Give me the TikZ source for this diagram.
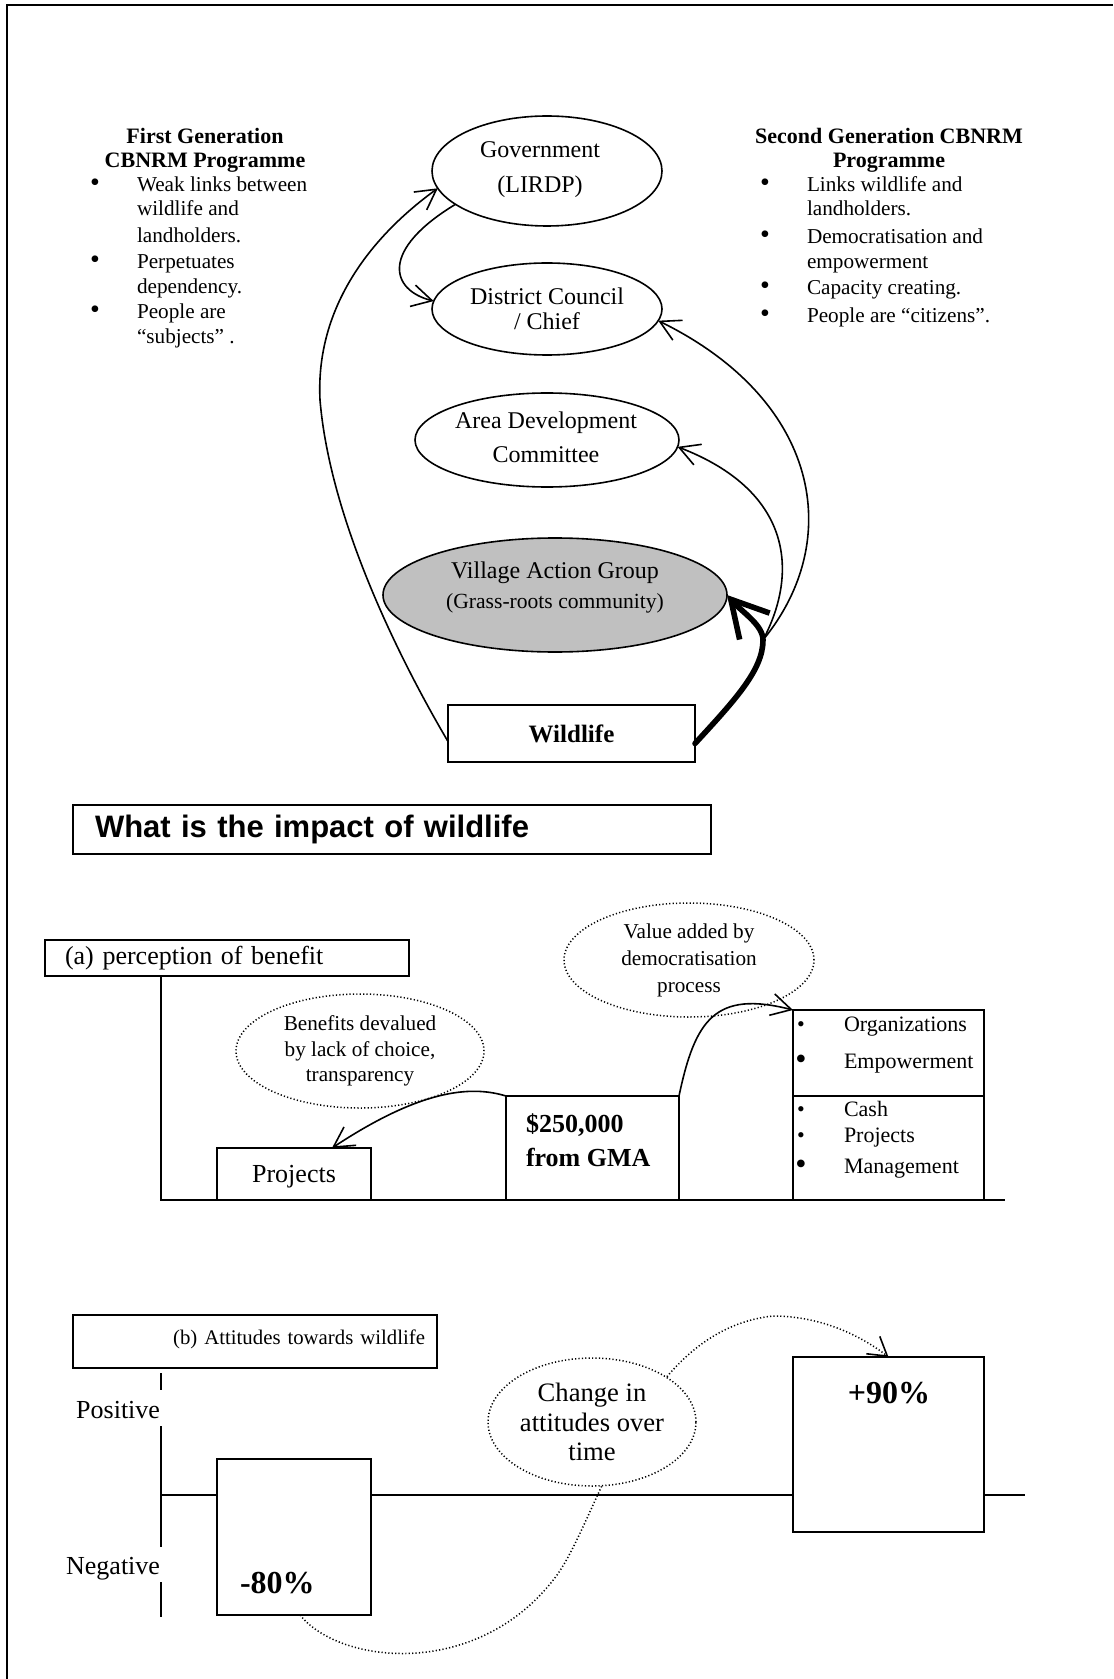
\documentclass[tikz,border=0pt]{standalone}
\usepackage{fontspec}
\setmainfont{Liberation Serif}
\newfontfamily\headsans{Liberation Sans}
\usetikzlibrary{shapes.geometric,arrows.meta,calc}
\definecolor{vaggray}{RGB}{192,192,192}
\begin{document}
\begin{tikzpicture}[x=0.5pt,y=-0.5pt,
  every node/.style={inner sep=0pt,outer sep=0pt},
  line width=0.8pt,
  ell/.style={draw,ellipse,align=center,font=\fontsize{12}{14}\selectfont},
  etxt/.style={align=center,font=\fontsize{12}{14}\selectfont},
  dotline/.style={dash pattern=on 0.6pt off 1.1pt,line width=0.75pt},
  dotell/.style={draw,ellipse,align=center,dotline},
  boxn/.style={draw,rectangle,fill=white},
  head/.style={align=center,font=\fontsize{11}{12}\selectfont\bfseries},
  li/.style={anchor=base west,font=\fontsize{10.6}{12}\selectfont},
  bul/.style={anchor=base,font=\fontsize{14}{12}\selectfont},
  bi/.style={anchor=base west,font=\fontsize{11}{12}\selectfont},
  bbul/.style={anchor=base,font=\fontsize{11}{12}\selectfont},
  bigbul/.style={anchor=base,font=\fontsize{16}{12}\selectfont},
  arr/.style={-{Straight Barb[length=10pt,width=11pt]}},
  bigarr/.style={line width=2.8pt,line cap=round,-{Straight Barb[length=18pt,width=20pt]}},
  axis/.style={line width=0.9pt}
]
\useasboundingbox (0,0) rectangle (1113,1679);

% frame
\draw[line width=1pt] (7,1679) -- (7,5) -- (1113,5);

% ---------- programme headings and lists ----------
\node[head] (hl) at (205,150) {First Generation\\CBNRM Programme};
\node[head] (hr) at (889,150) {Second Generation CBNRM\\Programme};

\node[bul] (lb1) at (95,192) {\textbullet};
\node[li] (l1) at (137,192) {Weak links between};
\node[li] (l2) at (137,216) {wildlife and};
\node[li] (l3) at (137,243) {landholders.};
\node[bul] (lb2) at (95,269) {\textbullet};
\node[li] (l4) at (137,269) {Perpetuates};
\node[li] (l5) at (137,294) {dependency.};
\node[bul] (lb3) at (95,319) {\textbullet};
\node[li] (l6) at (137,319) {People are};
\node[li] (l7) at (137,344) {“subjects” .};

\node[bul] (rb1) at (765,192) {\textbullet};
\node[li] (r1) at (807,192) {Links wildlife and};
\node[li] (r2) at (807,216) {landholders.};
\node[bul] (rb2) at (765,244) {\textbullet};
\node[li] (r3) at (807,244) {Democratisation and};
\node[li] (r4) at (807,269) {empowerment};
\node[bul] (rb3) at (765,295) {\textbullet};
\node[li] (r5) at (807,295) {Capacity creating.};
\node[bul] (rb4) at (765,323) {\textbullet};
\node[li] (r6) at (807,323) {People are “citizens”.};

% ---------- institutions ----------
\node[ell,minimum width=115pt,minimum height=55pt] (gov) at (547,171) {};
\node[etxt,font=\fontsize{12}{17.5}\selectfont] (govt) at (540,170) {Government\\(LIRDP)};
\node[ell,minimum width=115pt,minimum height=46pt,font=\fontsize{12}{12.5}\selectfont] (dc) at (547,309) {District Council\\/ Chief};
\node[ell,minimum width=132pt,minimum height=47pt] (adc) at (547,440) {};
\node[etxt,font=\fontsize{12}{17}\selectfont] (adct) at (546,437) {Area Development\\Committee};
\node[ell,fill=vaggray,minimum width=172pt,minimum height=57pt] (vag) at (555,595) {};
\node[etxt,font=\fontsize{12}{15}\selectfont] (vagt) at (555,588) {Village Action Group\\{\fontsize{10.8}{13}\selectfont(Grass-roots community)}};
\node[boxn,minimum width=123.5pt,minimum height=28.5pt,font=\fontsize{12.5}{14}\selectfont\bfseries] (wild) at (571.5,733.5) {Wildlife};

% ---------- flows from wildlife ----------
\coordinate (split) at (763,640);
\draw[arr] ($(wild.west)+(0,8)$) .. controls (400,660) and (330,520) .. (320,400)
   .. controls (315,300) and (380,230) .. (gov.189);
\draw[arr] (gov.200) .. controls (380,250) and (390,290) .. (dc.176);
\draw[arr] (split) .. controls (845,540) and (820,400) .. (dc.354);
\draw[arr] (split) .. controls (800,570) and (790,490) .. (adc.357);
\draw[bigarr] ($(wild.east)+(0,10)$) .. controls (735,700) and (763,670) .. (split)
   .. controls (763,625) and (742,612) .. (vag.east);

% ---------- impact heading ----------
\node[boxn,anchor=north west,minimum width=319pt,minimum height=24.5pt,text width=297pt,
  inner xsep=11pt,align=left,font=\headsans\bfseries\fontsize{15.5}{18}\selectfont] (ttl) at (73,805)
  {What is the impact of wildlife};

% ---------- (a) perception of benefit ----------
\coordinate (ao) at (161,1200);
\coordinate (aend) at (1005,1200);
\node[boxn,anchor=north west,minimum width=182pt,minimum height=18pt,text width=162pt,
  inner xsep=10pt,align=left,font=\fontsize{13}{14}\selectfont] (pa) at (45,940) {(a) perception of benefit};
\draw[axis] (pa.south -| ao) -- (ao) -- (aend);

\node[boxn,minimum width=77pt,minimum height=26pt,text depth=0pt,font=\fontsize{13}{14}\selectfont] (proj) at (294,1174) {Projects};
\node[boxn,minimum width=86.5pt,minimum height=52pt] (gma) at (592.5,1148) {};
\node[anchor=west,align=left,font=\fontsize{13}{17}\selectfont\bfseries] (gmat) at (526,1140) {\$250,000\\from GMA};
\node[boxn,minimum width=95.5pt,minimum height=43pt] (org) at (888.5,1053) {};
\node[boxn,minimum width=95.5pt,minimum height=52pt] (cash) at (888.5,1148) {};

\node[bbul] (ob1) at (801,1031) {\textbullet};
\node[bi] (o1) at (844,1031) {Organizations};
\node[bigbul] (ob2) at (801,1069) {\textbullet};
\node[bi] (o2) at (844,1068) {Empowerment};
\node[bbul] (cb1) at (801,1116) {\textbullet};
\node[bi] (c1) at (844,1116) {Cash};
\node[bbul] (cb2) at (801,1142) {\textbullet};
\node[bi] (c2) at (844,1142) {Projects};
\node[bigbul] (cb3) at (801,1174) {\textbullet};
\node[bi] (c3) at (844,1173) {Management};

\node[dotell,minimum width=124pt,minimum height=57pt,font=\fontsize{10.6}{12.75}\selectfont] (dev) at (360,1051)
  {Benefits devalued\\by lack of choice,\\transparency};
\node[dotell,minimum width=125pt,minimum height=57pt,font=\fontsize{10.6}{13.5}\selectfont] (val) at (689,960)
  {Value added by\\democratisation\\process};

\draw[arr] (gma.north west) .. controls (470,1085) and (420,1090) .. ($(proj.north)+(38,0)$);
\draw[arr] (gma.north east) .. controls (695,1020) and (715,990) .. (org.north west);

% ---------- (b) attitudes towards wildlife ----------
\coordinate (bo) at (161,1495);
\coordinate (bend) at (1025,1495);
\node[boxn,anchor=north west,minimum width=182pt,minimum height=26.5pt,text width=170pt,
  inner xsep=6pt,align=right,text depth=4pt,font=\fontsize{10.4}{12}\selectfont] (pb) at (73,1315) {(b) Attitudes towards wildlife};
\draw[axis] (bo) -- (bend);
\draw[axis] (161,1373) -- (161,1390);
\draw[axis] (161,1426) -- (161,1547);
\draw[axis] (161,1582) -- (161,1617);
\node[anchor=east,font=\fontsize{13}{14}\selectfont] (posl) at (160,1410) {Positive};
\node[anchor=east,font=\fontsize{13}{14}\selectfont] (negl) at (160,1569) {Negative};

\node[boxn,minimum width=77pt,minimum height=78pt] (neg) at (294,1537) {};
\node[anchor=west,font=\fontsize{16}{18}\selectfont\bfseries] (negt) at (240,1583) {-80\%};
\node[boxn,minimum width=95.5pt,minimum height=87.5pt] (pos) at (888.5,1444.5) {};
\node[font=\fontsize{16}{18}\selectfont\bfseries] (post) at (889,1393) {+90\%};

\draw[dotline,-{Straight Barb[length=9pt,width=11pt,line width=0.8pt]}]
  ($(neg.south)+(6,0)$) .. controls (340,1665) and (480,1680) .. (557,1575)
  .. controls (600,1515) and (640,1330) .. (773,1316)
  .. controls (820,1316) and (860,1335) .. (pos.north);
\node[dotell,fill=white,minimum width=104pt,minimum height=64pt,font=\fontsize{13.3}{14.75}\selectfont] (chg) at (592,1422)
  {Change in\\attitudes over\\time};
\end{tikzpicture}
\end{document}
